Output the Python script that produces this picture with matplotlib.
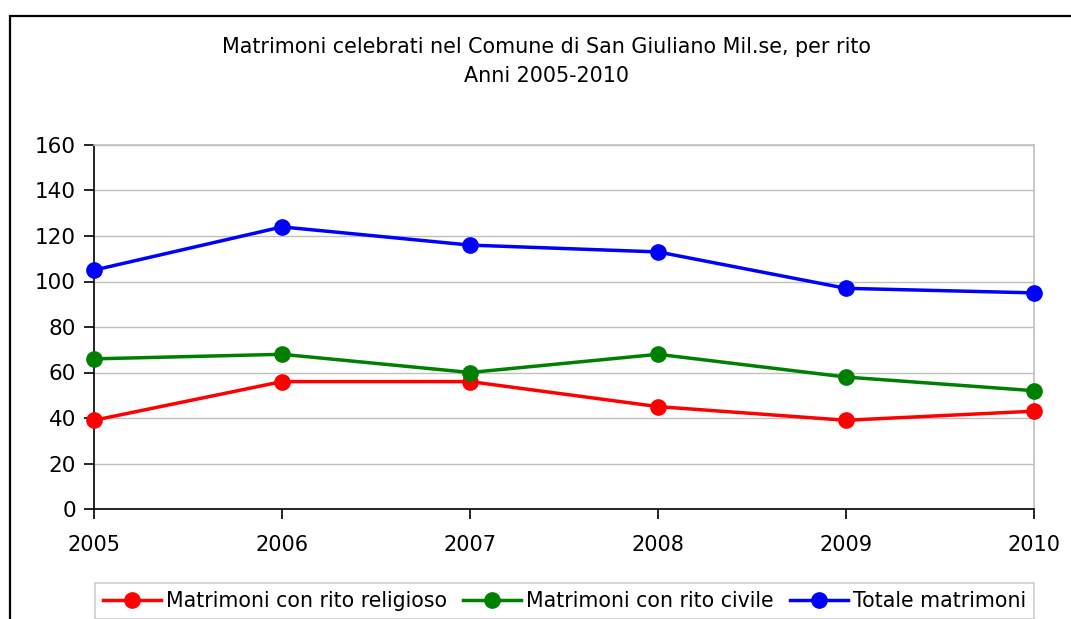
import matplotlib.pyplot as plt
from matplotlib.patches import Rectangle

# Data
anni = [2005, 2006, 2007, 2008, 2009, 2010]
religioso = [39, 56, 56, 45, 39, 43]
civile = [66, 68, 60, 68, 58, 52]
totale = [105, 124, 116, 113, 97, 95]

serie = [
    ('Matrimoni con rito religioso', religioso, '#ff0000'),
    ('Matrimoni con rito civile', civile, '#008000'),
    ('Totale matrimoni', totale, '#0000ff'),
]

W, H = 1071, 619
fig = plt.figure(figsize=(W / 100, H / 100), dpi=100)

# outer chart frame (runs off the right and bottom edges)
fig.patches.append(Rectangle((10 / W, -0.1), 1.2, 1 - 16 / H + 0.1,
                             transform=fig.transFigure, fill=False,
                             edgecolor='black', linewidth=1.6))

ax = fig.add_axes([94 / W, 1 - 509 / H, (1034 - 94) / W, (509 - 145) / H])

for label, vals, col in serie:
    ax.plot(anni, vals, '-o', color=col, linewidth=2.5, markersize=11,
            label=label, zorder=3, clip_on=False)

ax.set_xlim(2005, 2010)
ax.set_ylim(0, 160)
ax.set_yticks(range(0, 161, 20))
ax.set_xticks(anni)
ax.grid(axis='y', color='#c0c0c0', linewidth=1)
ax.set_axisbelow(True)

for s in ['top', 'right']:
    ax.spines[s].set_color('#c0c0c0')
    ax.spines[s].set_linewidth(1.2)
for s in ['left', 'bottom']:
    ax.spines[s].set_color('black')
    ax.spines[s].set_linewidth(1.2)

ax.tick_params(axis='both', labelsize=15, length=7, width=1.2, direction='out')
ax.tick_params(axis='x', pad=12)
ax.tick_params(axis='y', labelsize=15.5, pad=6)

fig.text(547 / W, 1 - 47 / H, 'Matrimoni celebrati nel Comune di San Giuliano Mil.se, per rito',
         ha='center', va='center', fontsize=14.9)
fig.text(547 / W, 1 - 76 / H, 'Anni 2005-2010', ha='center', va='center', fontsize=14.9)

leg = fig.legend(loc='upper left', bbox_to_anchor=(95 / W, 1 - 583 / H), ncol=3,
                 fontsize=14.8, frameon=True, fancybox=False, handlelength=2.8,
                 handletextpad=0.25, columnspacing=0.8, borderpad=0.4,
                 borderaxespad=0)
leg.get_frame().set_edgecolor('#c0c0c0')
leg.get_frame().set_linewidth(1.2)

fig.savefig('out.png', dpi=100)
